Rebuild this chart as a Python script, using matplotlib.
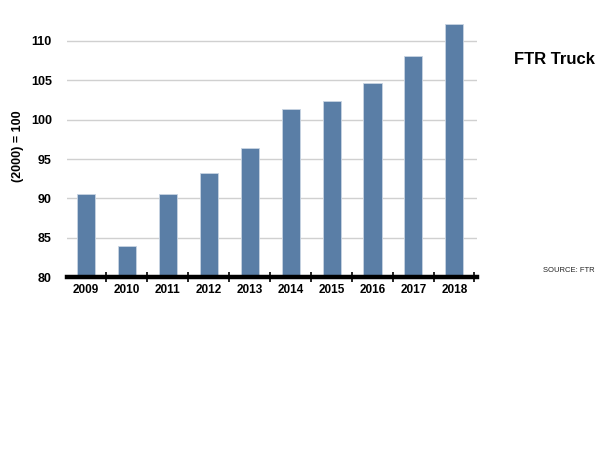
import matplotlib.pyplot as plt
import numpy as np

plt.rcParams['font.family'] = ['Liberation Sans Narrow', 'Liberation Sans', 'DejaVu Sans']

years = ["2009", "2010", "2011", "2012", "2013", "2014", "2015", "2016", "2017", "2018"]
index_values = [90.5, 83.9, 90.5, 93.2, 96.4, 101.3, 102.4, 104.7, 108.1, 112.2]
y_ticks = [80, 85, 90, 95, 100, 105, 110]

BAR_COLOR = "#5a7ea6"

fig = plt.figure(figsize=(6, 4.5), dpi=100)
ax = fig.add_axes([0.112, 0.384, 0.683, 0.569])

x = np.arange(len(years))
ax.bar(x, index_values, width=0.44, bottom=0, color=BAR_COLOR,
       edgecolor="#c8d4e2", linewidth=0.6, zorder=3)

ax.set_ylim(80, 112.5)
ax.set_xlim(-0.45, 9.55)
ax.set_yticks(y_ticks)
ax.set_yticklabels([str(v) for v in y_ticks], fontweight="bold", fontsize=9)
ax.set_xticks(x)
ax.set_xticklabels(years, fontweight="bold", fontsize=8.5)
ax.set_xticks(list(x[:-1] + 0.5) + [9.48], minor=True)

ax.tick_params(axis="y", length=0, pad=11)
ax.tick_params(axis="x", which="major", length=0, pad=5)
ax.tick_params(axis="x", which="minor", length=7, width=1.2, direction="inout", color="black")

for v in y_ticks[1:]:
    ax.axhline(v, color="#d0d0d0", linewidth=1.0, zorder=1)

for side in ["top", "right", "left"]:
    ax.spines[side].set_visible(False)
ax.spines["bottom"].set_linewidth(3.2)
ax.spines["bottom"].set_color("black")
ax.spines["bottom"].set_zorder(4)

ax.set_ylabel("(2000) = 100", fontweight="bold", fontsize=9)
ax.yaxis.set_label_coords(-0.105, 0.51)

fig.text(0.857, 0.867, "FTR Truck", fontsize=12, fontweight="bold",
         va="center", ha="left")
fig.text(0.905, 0.40, "SOURCE: FTR", fontsize=5.5, va="center", ha="left", color="#222222")

fig.savefig("out.png", dpi=100)
